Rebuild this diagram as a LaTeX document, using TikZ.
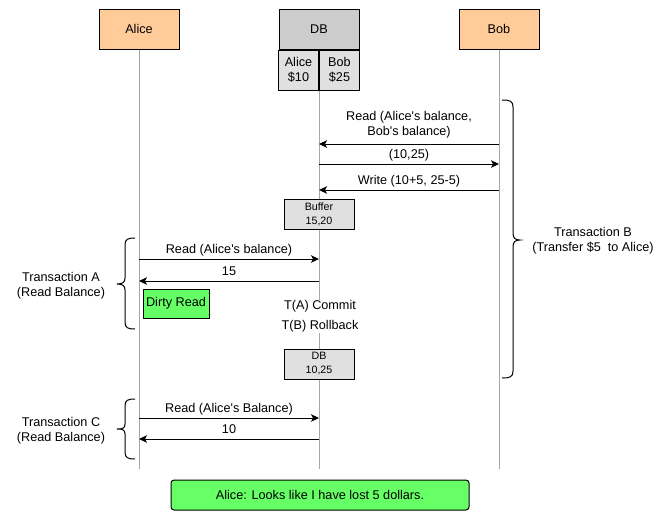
\documentclass[tikz,border=0pt]{standalone}
\usepackage{fontspec}
\setmainfont{Liberation Sans}[Ligatures=TeXOff]
\usetikzlibrary{arrows.meta}

\newlength{\du}
\setlength{\du}{0.75pt}

\definecolor{actorcolor}{rgb}{1.000000, 0.800000, 0.600000}
\definecolor{dbheadcolor}{rgb}{0.800000, 0.800000, 0.800000}
\definecolor{dbcellcolor}{rgb}{0.878000, 0.878000, 0.878000}
\definecolor{greencolor}{rgb}{0.400000, 1.000000, 0.400000}
\definecolor{lifecolor}{rgb}{0.650000, 0.650000, 0.650000}

\tikzset{
  actor/.style={draw=black, fill=actorcolor, line width=1\du, minimum width=80\du, minimum height=40\du, inner sep=0pt, font=\fontsize{9.5}{11.5}\selectfont},
  dbhead/.style={actor, fill=dbheadcolor},
  dbcell/.style={actor, fill=dbcellcolor, minimum width=40\du, align=center, font=\fontsize{9.5}{11.7}\selectfont},
  bufferbox/.style={draw=black, fill=dbcellcolor, line width=1\du, minimum width=70\du, minimum height=30\du, inner sep=0pt, align=center, font=\fontsize{8}{10.5}\selectfont},
  dirtybox/.style={draw=black, fill=greencolor, line width=1\du, minimum width=66\du, minimum height=29\du, inner sep=0pt, font=\fontsize{9.5}{11.5}\selectfont},
  notebox/.style={draw=black, fill=greencolor, line width=1\du, rounded corners=3\du, minimum width=298\du, minimum height=30\du, inner sep=0pt, font=\fontsize{9.5}{11.5}\selectfont},
  lifeline/.style={draw=lifecolor, line width=1\du},
  msg/.style={draw=black, line width=1\du, -{Stealth[length=6pt, width=5.6pt, inset=1.5pt]}},
  msglabel/.style={above, inner sep=2.8\du, text height=7pt, text depth=2pt, font=\fontsize{9.5}{11.5}\selectfont},
  msgnote/.style={above, inner sep=2.8\du, yshift=3\du, align=center, font=\fontsize{9.5}{11.25}\selectfont},
  translabel/.style={align=center, inner sep=0pt, font=\fontsize{9.5}{11.25}\selectfont},
  statelabel/.style={fill=white, align=center, inner sep=1\du, font=\fontsize{9.5}{15}\selectfont},
  bracket/.style={draw=black, line width=1\du}
}

\begin{document}
\begin{tikzpicture}
\pgftransformxscale{1.000000}
\pgftransformyscale{-1.000000}
\useasboundingbox (0\du,0\du) rectangle (667\du,518\du);
% heads
\node[actor] (alice) at (139\du,29\du){Alice};
\node[dbhead] (db) at (319\du,29\du){DB};
\node[dbcell, anchor=north east] (dbalice) at (db.south){Alice\\\$10};
\node[dbcell, anchor=north west] (dbbob) at (db.south){Bob\\\$25};
\node[actor] (bob) at (499\du,29\du){Bob};
% lifelines
\coordinate (aliceend) at (139\du,469\du);
\coordinate (dbend) at (319\du,469\du);
\coordinate (bobend) at (499\du,469\du);
\draw[lifeline] (alice) -- (aliceend);
\draw[lifeline] (dbalice.south east) -- (dbend);
\draw[lifeline] (bob) -- (bobend);
% transaction B
\coordinate (bobread) at (499\du,144\du);
\coordinate (dbread) at (319\du,144\du);
\coordinate (dbvalue) at (319\du,164\du);
\coordinate (bobvalue) at (499\du,164\du);
\coordinate (bobwrite) at (499\du,190\du);
\coordinate (dbwrite) at (319\du,190\du);
\draw[msg] (bobread) -- node[msgnote]{Read (Alice's balance,\\Bob's balance)} (dbread);
\draw[msg] (dbvalue) -- node[msglabel]{(10,25)} (bobvalue);
\draw[msg] (bobwrite) -- node[msglabel]{Write (10+5, 25-5)} (dbwrite);
\node[bufferbox] (buffer) at (319\du,214\du){Buffer\\15,20};
% transaction A
\coordinate (aliceread) at (139\du,259\du);
\coordinate (dbreada) at (319\du,259\du);
\coordinate (dbvaluea) at (319\du,281\du);
\coordinate (alicevalue) at (139\du,281\du);
\draw[msg] (aliceread) -- node[msglabel]{Read (Alice's balance)} (dbreada);
\draw[msg] (dbvaluea) -- node[msglabel]{15} (alicevalue);
\node[dirtybox] (dirty) at (176\du,303.5\du){Dirty Read};
\node[statelabel] (commit) at (320\du,316.5\du){T(A) Commit\\T(B) Rollback};
\node[bufferbox] (dbafter) at (319\du,364\du){DB\\10,25};
% transaction C
\coordinate (alicereadc) at (139\du,418\du);
\coordinate (dbreadc) at (319\du,418\du);
\coordinate (dbvaluec) at (319\du,439\du);
\coordinate (alicevaluec) at (139\du,439\du);
\draw[msg] (alicereadc) -- node[msglabel]{Read (Alice's Balance)} (dbreadc);
\draw[msg] (dbvaluec) -- node[msglabel]{10} (alicevaluec);
% brackets
\draw[bracket] (502\du,100\du) .. controls (510\du,100\du) and (513\du,101\du) .. (513\du,107\du) -- (513\du,233\du) .. controls (513\du,238\du) and (515\du,240\du) .. (520\du,240\du) .. controls (515\du,240\du) and (513\du,242\du) .. (513\du,247\du) -- (513\du,371\du) .. controls (513\du,377\du) and (510\du,378\du) .. (502\du,378\du);
\draw[bracket] (135\du,238\du) .. controls (128\du,238\du) and (125\du,239\du) .. (125\du,245\du) -- (125\du,278\du) .. controls (125\du,282\du) and (123\du,284\du) .. (117\du,284\du) .. controls (123\du,284\du) and (125\du,286\du) .. (125\du,290\du) -- (125\du,322\du) .. controls (125\du,328\du) and (128\du,329\du) .. (135\du,329\du);
\draw[bracket] (135\du,399\du) .. controls (128\du,399\du) and (125\du,400\du) .. (125\du,406\du) -- (125\du,424\du) .. controls (125\du,428\du) and (123\du,429\du) .. (117\du,429\du) .. controls (123\du,429\du) and (125\du,430\du) .. (125\du,434\du) -- (125\du,452\du) .. controls (125\du,458\du) and (128\du,459\du) .. (135\du,459\du);
\node[translabel] (transb) at (593\du,241\du){Transaction B\\(Transfer \$5\ \ to Alice)};
\node[translabel] (transa) at (61\du,286\du){Transaction A\\(Read Balance)};
\node[translabel] (transc) at (61\du,431\du){Transaction C\\(Read Balance)};
% result
\node[notebox] (lost) at (320\du,495\du){Alice: Looks like I have lost 5 dollars.};
\end{tikzpicture}
\end{document}
